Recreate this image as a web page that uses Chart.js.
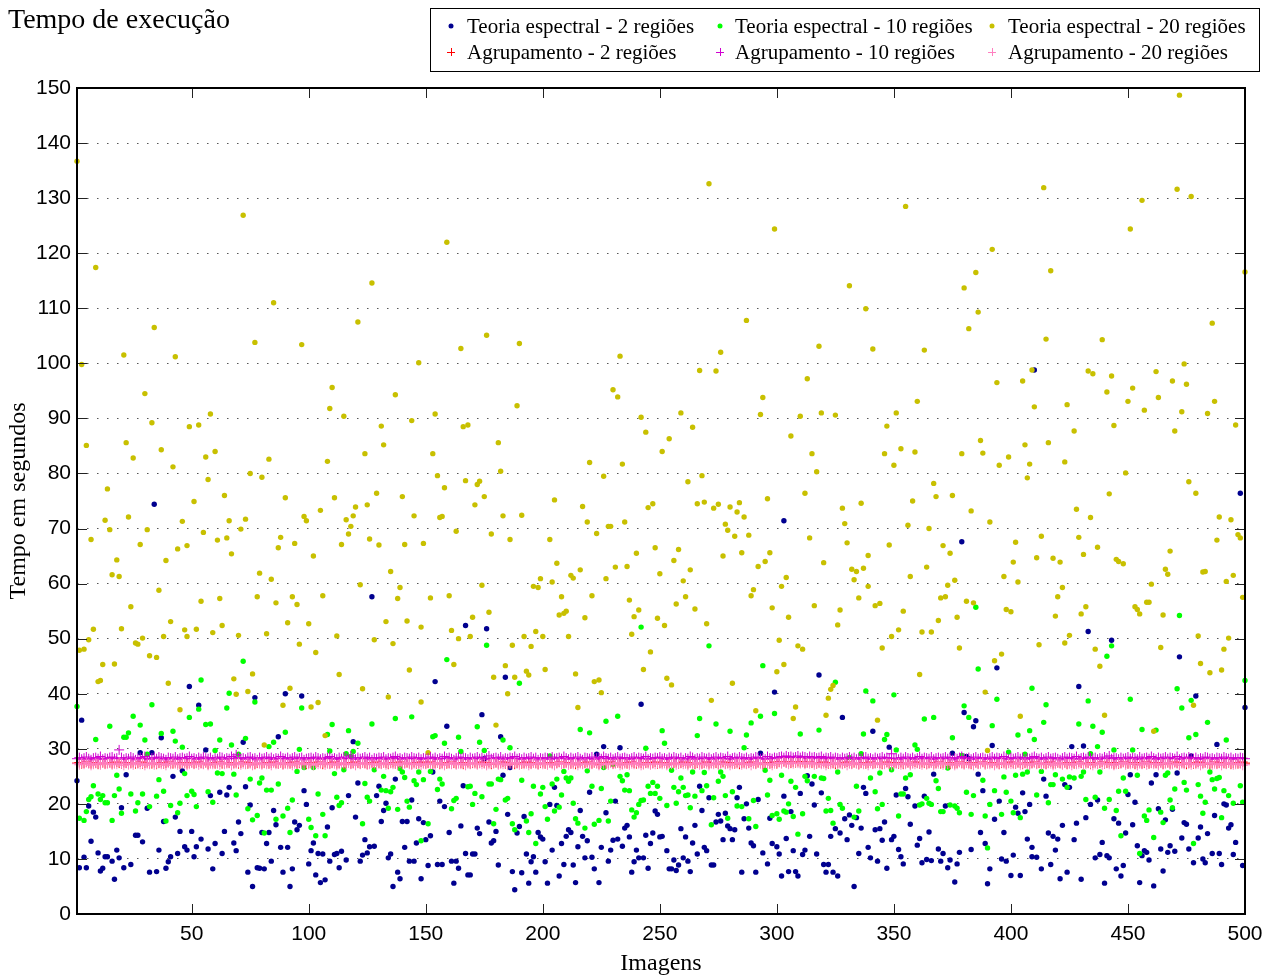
<!DOCTYPE html>
<html lang="pt">
<head>
<meta charset="UTF-8">
<title>Tempo de execução</title>
<script src="https://cdn.jsdelivr.net/npm/chart.js"></script>
<style>
  body { margin: 0; background: #fff; }
  canvas { display: block; }
</style>
</head>
<body>
<canvas id="myChart" width="1274" height="976"></canvas>
<script>
// eixos
const xTicks = [50, 100, 150, 200, 250, 300, 350, 400, 450, 500];
const yTicks = [0, 10, 20, 30, 40, 50, 60, 70, 80, 90, 100, 110, 120, 130, 140, 150];

// Teoria espectral - 2 regiões  [imagem, segundos]
const espectral2 = [
[1,24.2],[2,8.4],[3,35.2],[4,10.3],[5,8.4],[6,19.6],[7,13.2],[8,18.5],[9,17.6],[10,11.1],[11,7.8],[12,8.3],[13,10.4],[14,10.4],[16,9.6],[17,6.3],[18,11.6],[19,10.2],[20,19.3],[21,8.4],[22,25.3],[24,9.0],[26,14.3],[27,14.3],[28,29.3],[29,13.1],[31,19.2],[32,7.6],[33,29.3],[34,74.4],[35,7.7],[36,11.6],[37,32.0],[38,16.8],[39,8.3],[40,9.5],[41,10.4],[42,25.0],[43,17.6],[44,11.0],[45,15.0],[46,26.0],[47,12.2],[48,11.6],[49,41.3],[50,15.0],[51,10.4],[52,12.2],[53,37.9],[54,13.6],[56,29.8],[57,11.8],[58,21.5],[59,8.2],[60,12.8],[62,22.1],[63,11.0],[64,15.0],[65,21.6],[66,23.0],[68,12.9],[69,11.5],[70,16.7],[71,14.6],[72,31.2],[73,23.1],[74,7.6],[75,19.8],[76,5.0],[77,39.3],[78,8.4],[79,8.3],[80,14.8],[81,8.2],[82,12.8],[83,14.8],
[84,9.6],[85,18.8],[86,16.2],[87,32.2],[88,12.1],[89,7.6],[90,40.0],[91,12.1],[92,5.0],[93,8.2],[94,16.7],[95,15.3],[96,16.1],[97,39.6],[98,22.4],[99,19.9],[100,9.1],[101,11.5],[102,12.9],[103,7.1],[104,11.0],[105,5.7],[106,10.9],[107,6.2],[108,15.8],[109,9.6],[110,19.3],[111,10.8],[112,11.0],[113,8.4],[114,11.4],[116,9.8],[117,21.5],[119,31.3],[120,17.6],[121,23.8],[122,9.6],[123,10.7],[124,13.5],[125,11.1],[126,12.2],[127,57.6],[128,12.3],[129,21.5],[130,23.2],[131,16.8],[132,18.8],[133,20.1],[134,10.2],[135,10.9],[136,5.0],[137,24.5],[138,7.6],[139,6.4],[140,16.8],[141,12.1],[142,16.8],[143,9.6],[144,20.7],[145,9.6],[146,12.9],[147,17.3],[148,6.4],[149,16.6],[150,13.5],[151,8.8],[152,14.2],[153,25.8],[154,42.2],[155,9.0],[156,20.5],[157,9.0],[158,19.5],[159,34.1],[160,14.8],[161,9.6],[162,5.6],[163,9.6],[164,8.3],[165,16.0],[166,23.3],[167,11.0],[167,52.4],[168,7.1],
[169,7.1],[170,10.9],[171,10.9],[172,15.6],[173,14.6],[174,36.2],[175,28.2],[176,51.8],[177,16.7],[178,12.9],[179,13.3],[180,15.0],[181,8.9],[182,32.2],[183,25.2],[184,43.0],[185,18.1],[186,26.6],[187,7.7],[188,4.4],[189,14.7],[190,15.9],[191,7.5],[192,17.7],[193,10.9],[194,5.6],[195,9.5],[196,10.4],[197,7.6],[198,14.8],[199,14.0],[200,13.6],[201,9.5],[202,5.6],[203,19.9],[204,11.6],[205,23.0],[206,19.7],[207,6.9],[208,12.8],[209,9.0],[210,14.1],[211,15.3],[212,14.8],[213,8.9],[214,5.7],[215,12.2],[216,18.8],[217,14.1],[218,10.2],[219,13.3],[220,22.1],[221,10.3],[222,8.2],[223,29.0],[224,5.7],[225,12.1],[226,30.4],[227,18.4],[228,9.6],[229,11.6],[230,13.4],[231,20.5],[232,13.6],[233,30.2],[234,12.3],[235,15.6],[236,16.1],[237,14.0],[238,7.6],[239,9.5],[240,11.6],[241,10.2],[242,38.1],[243,10.2],[244,14.3],[245,8.3],[246,12.8],[247,14.7],[248,18.7],[249,18.1],[250,14.0],[251,14.1],[253,11.5],[254,8.2],
[255,8.2],[256,9.8],[257,7.9],[258,8.9],[259,15.5],[260,10.2],[261,14.0],[262,9.6],[263,7.7],[264,12.9],[265,16.1],[266,10.9],[267,23.2],[268,18.8],[269,12.1],[270,11.5],[271,21.1],[272,8.9],[273,8.9],[274,16.7],[275,18.1],[276,16.9],[277,13.5],[278,18.3],[279,16.0],[280,15.5],[281,13.5],[282,15.3],[283,21.1],[284,23.0],[285,7.6],[286,17.3],[287,20.0],[288,15.6],[289,12.9],[290,12.4],[291,7.6],[292,20.8],[293,29.2],[294,11.1],[296,9.1],[297,17.4],[298,12.8],[299,40.3],[300,12.2],[301,10.9],[302,6.9],[303,71.4],[303,21.4],[304,13.7],[305,7.7],[306,18.6],[307,11.5],[308,7.7],[309,6.9],[310,21.9],[311,10.8],[312,11.6],[313,25.1],[314,14.1],[315,23.6],[316,19.8],[317,10.9],[318,43.4],[319,22.0],[320,9.0],[321,7.6],[322,9.0],[323,14.1],[324,7.6],[325,15.5],[326,6.9],[327,14.7],[328,35.7],[329,17.3],[330,13.5],[331,18.0],[332,16.1],[333,5.0],[334,17.5],[335,11.0],[336,15.6],[337,23.0],[338,21.9],[339,12.1],[340,10.2],
[341,33.2],[342,15.3],[343,9.6],[344,15.5],[345,13.4],[346,16.7],[347,8.3],[348,30.3],[349,13.5],[350,14.1],[351,21.6],[352,11.7],[353,10.4],[354,9.1],[355,22.8],[356,21.3],[357,16.3],[359,19.6],[360,12.5],[361,13.7],[362,9.3],[363,21.4],[364,9.9],[365,14.9],[366,9.7],[367,25.4],[369,11.8],[370,9.6],[371,11.0],[372,19.6],[373,8.4],[374,9.8],[375,29.2],[376,5.8],[377,9.1],[378,11.2],[379,67.6],[380,36.6],[381,28.6],[382,28.2],[383,11.7],[384,34.0],[385,35.1],[386,25.4],[387,14.8],[388,22.4],[389,12.8],[390,5.5],[391,8.2],[392,30.6],[393,17.2],[394,44.7],[395,20.5],[396,10.0],[397,14.8],[398,9.6],[400,7.0],[401,10.7],[402,19.4],[403,18.3],[404,7.0],[405,22.0],[406,18.6],[407,13.6],[408,19.9],[409,12.1],[409,10.4],[410,98.8],[411,10.3],[413,8.2],[414,24.5],[415,21.4],[416,14.7],[417,9.0],[418,14.1],[419,11.6],[420,13.6],[421,6.4],[422,16.1],[423,23.5],[424,7.6],[425,23.0],
[426,30.4],[427,13.5],[428,16.5],[429,41.3],[430,6.3],[431,30.5],[432,17.5],[433,51.3],[434,19.9],[436,10.2],[437,20.7],[438,10.8],[439,13.0],[440,5.6],[441,10.6],[442,10.2],[443,49.7],[444,17.3],[445,8.2],[446,16.5],[447,6.9],[448,8.8],[449,14.7],[450,21.7],[451,25.3],[452,16.2],[453,20.3],[454,12.4],[455,5.7],[456,10.6],[457,11.5],[458,11.2],[459,9.8],[460,23.8],[461,5.1],[462,25.3],[463,19.1],[464,11.8],[465,7.8],[466,17.1],[467,11.2],[468,12.4],[469,19.0],[470,11.4],[471,25.6],[472,46.7],[473,13.8],[474,16.6],[475,16.3],[476,11.8],[477,28.7],[478,9.3],[479,39.6],[480,13.8],[481,15.8],[482,10.0],[483,9.3],[484,14.6],[486,11.0],[487,17.9],[488,30.8],[489,11.0],[490,9.0],[491,20.0],[492,19.8],[493,15.6],[494,16.2],[495,10.8],[496,13.0],[498,76.4],[499,8.8],[500,37.5]
];

// Teoria espectral - 10 regiões
const espectral10 = [
[1,37.7],[2,17.4],[4,17.0],[5,18.6],[6,20.8],[7,21.3],[8,23.3],[9,31.7],[10,21.8],[11,20.8],[12,21.5],[13,20.2],[14,20.2],[15,34.1],[16,17.0],[17,21.5],[18,25.2],[19,22.7],[20,18.3],[21,32.1],[22,32.1],[23,32.9],[24,21.8],[25,35.9],[26,18.7],[27,20.2],[28,34.3],[29,21.8],[30,31.6],[31,29.0],[32,19.5],[33,38.0],[35,21.4],[36,24.4],[37,32.8],[38,22.3],[39,16.9],[41,19.7],[42,33.2],[43,31.4],[44,18.4],[45,20.1],[46,30.3],[47,25.5],[48,21.5],[49,35.7],[50,22.3],[51,21.7],[52,19.5],[53,37.2],[54,42.5],[56,34.4],[57,22.2],[58,34.5],[59,20.3],[60,29.7],[61,25.6],[62,31.6],[63,25.5],[65,37.4],[66,40.1],[67,30.7],[68,25.4],[69,21.6],[70,29.0],[72,45.9],[73,31.9],[74,19.1],[75,24.5],[76,17.1],[77,38.5],[78,17.9],[79,23.8],[80,24.7],[81,14.7],[82,22.5],[83,30.4],
[84,22.5],[85,31.2],[86,17.2],[87,23.6],[89,17.8],[90,33.0],[91,19.2],[92,14.8],[93,20.7],[95,25.9],[96,29.9],[97,37.4],[98,26.6],[100,17.2],[101,15.7],[102,26.6],[103,14.2],[104,21.8],[106,18.1],[107,14.2],[108,32.6],[109,29.6],[110,34.4],[111,25.5],[112,21.2],[113,19.7],[114,20.2],[115,26.2],[116,29.1],[117,33.3],[118,28.6],[119,29.5],[121,31.0],[123,16.4],[124,23.7],[125,21.2],[126,20.5],[127,34.5],[128,26.2],[131,22.5],[132,25.0],[133,22.4],[134,19.2],[135,22.2],[136,23.0],[137,35.5],[138,19.0],[139,26.4],[140,25.8],[141,24.8],[142,20.5],[143,19.4],[144,35.8],[145,24.2],[146,23.5],[147,25.8],[148,13.3],[149,24.4],[151,16.4],[152,25.9],[153,32.2],[154,32.4],[155,22.6],[156,24.5],[157,23.6],[158,31.0],[159,46.2],[161,19.1],[162,20.6],[163,21.0],[164,32.1],[165,29.5],[168,23.1],
[169,23.2],[170,19.9],[171,21.9],[172,34.0],[173,31.2],[174,21.3],[175,29.7],[176,48.8],[177,23.6],[178,23.6],[179,16.4],[180,19.0],[181,24.5],[182,24.4],[183,31.6],[184,20.7],[185,21.0],[186,30.2],[187,16.4],[188,15.3],[190,41.9],[191,24.3],[193,16.9],[194,14.8],[195,18.2],[196,23.2],[197,12.8],[199,21.8],[200,23.0],[201,19.5],[202,17.2],[203,28.7],[204,23.6],[205,18.7],[206,24.5],[207,19.4],[208,21.6],[209,25.9],[210,24.7],[211,24.1],[212,24.7],[213,20.1],[214,17.3],[215,16.5],[216,33.5],[218,15.6],[219,26.0],[220,32.9],[221,23.2],[222,16.3],[224,17.0],[225,22.8],[226,26.6],[227,35.0],[228,16.9],[229,20.5],[230,27.2],[232,35.9],[233,25.0],[234,24.2],[235,22.5],[236,25.3],[237,22.4],[238,18.9],[239,17.6],[240,18.4],[241,19.9],[242,52.1],[242,20.6],[243,20.7],[244,30.1],[245,23.2],[246,21.9],[247,23.9],[248,21.9],[249,23.2],[250,21.0],[251,33.3],[252,31.0],[253,19.7],
[255,26.1],[256,23.0],[257,20.1],[258,22.2],[259,24.7],[260,23.0],[261,21.5],[262,21.6],[263,19.3],[264,25.8],[265,21.4],[266,32.4],[267,35.5],[268,22.4],[269,25.7],[270,23.3],[271,48.7],[272,16.2],[273,21.1],[274,34.5],[275,24.1],[276,25.8],[277,25.0],[278,21.5],[279,17.4],[280,33.2],[281,22.2],[283,19.6],[285,19.5],[286,30.2],[287,32.5],[288,17.3],[289,34.7],[290,20.6],[291,15.9],[293,35.9],[294,45.1],[295,26.1],[296,21.6],[297,24.3],[298,17.9],[299,36.4],[300,18.2],[301,17.2],[302,25.2],[303,18.7],[304,18.5],[305,20.0],[306,24.1],[307,17.7],[308,23.0],[309,14.5],[310,32.7],[311,18.2],[312,25.0],[313,24.2],[316,25.0],[318,33.4],[319,24.7],[320,24.6],[321,18.7],[322,21.0],[323,18.8],[324,16.5],[325,42.1],[326,25.8],[327,19.9],[328,19.2],[331,28.4],[333,17.6],[334,23.2],[335,18.7],[336,29.1],[337,32.7],[338,40.5],[340,24.7],
[341,38.7],[342,22.2],[343,19.1],[344,25.6],[345,19.9],[346,31.7],[347,32.6],[349,26.2],[350,39.8],[351,29.8],[352,17.8],[353,21.8],[354,21.8],[355,24.7],[357,25.3],[359,30.7],[360,29.9],[361,19.8],[362,20.0],[363,35.4],[364,21.0],[365,20.1],[366,19.9],[367,35.7],[368,24.2],[369,22.8],[370,18.6],[371,18.6],[373,26.5],[374,19.8],[375,32.0],[376,19.6],[377,19.2],[378,18.4],[379,28.8],[380,37.8],[381,22.1],[382,35.7],[383,18.1],[384,21.5],[385,55.7],[386,44.5],[388,24.3],[389,17.8],[390,12.0],[391,19.9],[392,34.2],[393,22.4],[394,39.0],[396,18.1],[397,24.9],[398,22.1],[399,29.4],[400,20.5],[401,18.4],[402,25.2],[403,32.5],[404,17.5],[405,25.4],[406,29.0],[407,25.8],[408,33.3],[409,41.0],[410,31.7],[411,21.6],[413,25.9],[414,34.8],[415,38.0],[416,20.2],[417,23.5],[418,23.5],[419,25.3],[422,24.5],[424,23.0],[425,24.9],
[427,24.7],[429,34.5],[430,25.0],[431,25.8],[432,20.8],[433,38.7],[434,29.1],[435,34.1],[436,21.2],[437,30.4],[438,25.8],[439,33.0],[440,19.2],[441,46.8],[442,20.8],[443,48.7],[444,29.8],[445,18.8],[446,22.3],[447,14.2],[448,24.7],[449,22.3],[451,39.0],[452,29.8],[454,25.2],[455,11.0],[456,33.5],[457,17.8],[458,17.0],[459,18.9],[461,13.9],[462,33.4],[464,18.5],[465,16.6],[466,25.2],[467,25.6],[468,20.7],[469,19.3],[470,22.7],[471,40.9],[472,54.2],[473,37.4],[474,23.9],[475,22.5],[476,32.0],[477,38.8],[478,12.8],[479,32.6],[480,23.5],[481,21.4],[482,18.3],[483,20.3],[484,34.8],[485,25.8],[486,24.4],[487,22.7],[488,24.6],[489,24.8],[490,17.5],[491,22.4],[492,31.6],[493,21.5],[495,20.1],[498,23.3],[499,20.3],[500,42.4]
];

// Teoria espectral - 20 regiões
const espectral20 = [
[1,136.7],[72,126.9],[9,117.4],[159,122.0],[127,114.6],[85,111.0],[121,107.5],[34,106.5],[77,103.8],[97,103.4],[165,102.7],[21,101.5],[43,101.2],[3,99.8],[147,100.1],[110,95.6],[30,94.5],[137,94.3],[109,91.8],[58,90.8],[115,90.4],[154,90.8],[33,89.2],[49,88.5],[53,88.8],[131,88.6],[144,89.6],[166,88.5],[168,88.8],[5,85.1],[22,85.6],[132,85.2],[37,84.3],[60,84.0],[25,82.8],[56,83.0],[83,82.6],[108,82.2],[124,83.6],[153,83.6],[42,81.2],[75,80.0],[80,79.3],[57,78.9],[155,79.6],[167,78.7],[14,77.2],[64,76.0],[90,75.6],[111,75.6],[129,76.4],[140,75.8],[158,77.4],[51,74.9],[23,72.1],[13,71.5],[46,71.3],[66,71.4],[73,71.7],[98,72.2],[99,71.4],[105,73.3],[116,71.6],[119,72.3],[120,73.9],[125,74.3],[145,72.3],[156,72.0],[157,72.2],[15,69.8],[31,69.8],[71,69.9],[118,70.4],[117,69.0],[163,69.5],[7,68.0],[28,67.1],[48,66.9],[55,69.3],[61,67.9],[65,68.3],[88,68.4],[94,67.3],[114,67.1],[126,68.1],[130,67.0],[141,67.1],[149,67.3],[44,66.3],[87,66.5],[67,65.4],[102,65.0],[18,64.3],[39,64.2],[16,61.6],[19,61.3],[79,61.9],[84,60.8],[135,62.2],[122,59.8],[139,59.3],[36,58.8],[24,55.8],[54,56.8],[62,57.3],[78,57.6],[86,56.5],[93,57.6],[95,56.2],[106,57.8],[138,57.3],[152,57.4],[160,57.8],[41,53.1],[8,51.7],[20,51.8],[47,51.6],[52,51.7],[63,52.4],[91,52.9],[100,52.7],[133,53.1],[142,53.2],[148,52.1],[161,51.5],[6,49.8],[29,50.1],[38,50.4],[48,50.4],[59,51.1],[70,50.6],[82,50.9],[112,50.5],[164,50.0],[128,49.8],[2,47.9],[4,48.1],[26,49.2],[27,49.0],[96,49.0],[136,49.1],
[10,42.2],[11,42.4],[12,45.3],[17,45.4],[32,46.9],[35,46.6],[40,41.9],[45,37.1],[68,42.7],[69,39.9],[74,40.4],[76,43.6],[81,30.7],[89,37.9],[92,41.0],[101,37.6],[103,47.5],[104,38.4],[107,32.4],[113,43.5],[123,40.9],[134,39.4],[143,44.3],[148,38.5],[151,29.3],[162,45.3],
[271,132.6],[299,124.4],[331,114.1],[338,109.9],[287,107.8],[176,105.1],[190,103.6],[276,102.0],[318,103.1],[233,101.3],[267,98.7],[274,98.6],[313,97.2],[230,95.2],[232,93.9],[189,92.3],[294,93.8],[259,91.0],[293,90.7],[310,90.4],[319,91.0],[325,90.6],[242,90.2],[264,88.4],[244,87.5],[306,86.8],[254,86.3],[181,85.6],[251,84.0],[315,83.6],[220,82.0],[234,81.7],[182,80.4],[317,80.3],[226,79.5],[268,79.6],[262,78.5],[173,78.6],[172,78.0],[175,75.8],[171,74.3],[205,75.2],[217,74.0],[247,74.5],[245,73.8],[266,74.5],[269,74.8],[273,73.7],[275,74.4],[280,73.9],[284,74.7],[283,73.0],[286,72.1],[296,75.4],[312,76.4],[328,73.7],[336,74.6],[183,72.3],[191,72.4],[219,71.2],[228,70.4],[229,70.4],[235,71.2],[278,70.8],[329,70.9],[178,69.0],[186,68.0],[203,68.0],[223,69.1],[279,69.7],[282,68.6],[288,68.8],[314,68.3],[330,67.4],[206,63.7],[240,65.5],[248,66.5],[258,66.2],[256,64.2],[277,65.0],[285,65.6],[297,65.6],[295,64.0],[292,63.1],[320,63.8],[332,62.6],[334,62.2],[337,62.8],[212,61.5],[213,61.0],[216,62.5],[199,60.9],[204,60.3],[231,63.0],[236,63.1],[227,60.9],[250,61.8],[263,62.5],[260,60.5],[304,61.1],[333,60.7],[174,59.7],[196,59.5],[198,59.3],[302,59.5],[339,59.5],[290,58.9],[289,57.8],[208,57.6],[221,57.8],[237,57.0],[257,56.3],[261,57.6],[335,57.4],[298,55.6],[316,56.0],[170,53.9],[207,54.3],[209,54.6],[210,55.0],[218,53.8],[239,54.0],[241,55.2],[249,53.7],[265,55.4],[305,53.9],[327,55.2],[177,54.8],[197,51.3],[252,52.4],[270,52.7],[326,52.5],[192,50.4],[200,50.4],[211,50.4],[238,50.8],[169,50.4],[187,48.8],[195,48.6],[301,49.7],[309,48.7],[311,48.1],
[179,43.0],[184,45.1],[188,43.0],[185,40.0],[193,44.1],[194,43.4],[201,44.4],[180,34.3],[214,43.6],[215,37.5],[222,42.2],[224,42.5],[225,40.2],[243,44.4],[246,47.6],[253,42.8],[255,41.6],[272,38.8],[281,41.9],[291,36.9],[300,44.0],[303,45.3],[308,37.6],[307,35.5],[322,39.2],[323,40.8],[324,41.5],[321,36.1],
[472,148.7],[414,131.9],[471,131.6],[477,130.3],[456,129.6],[355,128.5],[451,124.4],[392,120.7],[385,116.5],[417,116.8],[500,116.6],[380,113.7],[386,109.3],[486,107.3],[382,106.3],[415,104.4],[439,104.3],[341,102.6],[363,102.4],[474,99.9],[409,98.8],[433,98.6],[435,98.1],[443,97.7],[462,98.5],[475,96.2],[394,96.5],[405,96.8],[469,96.8],[452,95.5],[441,94.8],[360,93.1],[450,93.1],[463,93.8],[487,93.1],[410,92.1],[424,92.5],[457,91.5],[473,91.2],[484,90.9],[351,91.0],[347,88.6],[444,88.7],[496,88.8],[470,87.7],[427,87.7],[387,86.0],[416,85.6],[406,85.2],[346,83.6],[353,84.5],[359,83.9],[379,83.6],[388,83.7],[399,83.0],[350,81.5],[395,81.5],[408,81.7],[423,82.1],[407,79.2],[449,80.1],[476,78.5],[479,76.4],[367,78.2],[368,75.8],[375,76.0],[442,76.3],[358,75.0],[428,73.5],[383,73.2],[434,72.0],[489,72.1],[494,71.6],[391,71.2],[356,70.6],[365,70.0],[413,68.6],[429,68.4],[497,68.9],[498,68.3],[348,67.0],[371,66.9],[402,67.5],[437,66.6],[488,67.9],[468,65.9],[339,65.1],[374,65.5],[411,64.7],[418,64.6],[421,63.9],[431,65.3],[445,64.4],[446,64.0],[448,63.6],[364,63.0],[401,63.9],[466,62.6],[467,61.7],[482,62.1],[483,62.2],[495,61.5],[357,61.3],[376,60.6],[397,61.3],[403,60.3],[460,59.9],[492,60.4],[373,59.7],[422,59.3],[342,56.0],[344,56.4],[370,57.4],[372,57.6],[381,56.8],[384,56.5],[420,57.6],[432,55.8],[453,55.8],[454,55.3],[458,56.6],[459,56.6],[499,57.5],[354,55.0],[398,55.3],[400,54.9],[419,54.1],[430,54.5],[455,54.5],[465,54.3],[377,53.9],[369,53.3],[352,51.6],[362,51.2],[366,51.2],[349,50.4],[425,50.6],[480,50.5],[493,50.1],[423,49.2],[412,48.9],[345,48.3],[378,48.3],[436,48.1],[464,48.4],[491,48.1],
[343,35.2],[361,43.5],[389,40.3],[390,29.7],[393,46.0],[396,47.2],[404,35.9],[438,45.0],[440,36.1],[461,33.2],[478,37.9],[481,45.5],[485,43.8],[490,44.3]
];

// Agrupamento - um valor por imagem (1..500)
const agrupamento2 = [
27.4,27.5,27.3,27.4,27.6,27.4,27.3,27.5,27.4,27.2,27.4,27.5,27.3,27.4,27.5,27.3,27.4,27.6,27.4,27.3,27.5,27.4,27.2,27.4,27.5,27.3,27.4,27.6,27.3,27.4,27.5,27.4,27.3,27.5,27.2,27.4,27.5,27.3,27.4,27.6,27.4,27.3,27.5,27.4,27.2,27.4,27.5,27.3,27.4,27.5,
27.3,27.4,27.6,27.4,27.3,27.5,27.2,27.4,27.5,27.3,27.4,27.6,27.3,27.4,27.5,27.4,27.2,27.4,27.5,27.3,27.4,27.6,27.4,27.3,27.5,27.4,27.2,27.4,27.5,27.3,27.4,27.5,27.3,27.4,27.6,27.4,27.3,27.5,27.2,27.4,27.5,27.3,27.4,27.6,27.3,27.4,27.5,27.4,27.2,27.4,
27.5,27.3,27.4,27.6,27.4,27.2,27.5,27.4,27.3,27.4,27.6,27.3,27.4,27.5,27.2,27.4,27.5,27.3,27.4,27.6,27.4,27.3,27.5,27.4,27.2,27.4,27.5,27.3,27.6,27.4,27.3,27.5,27.4,27.2,27.4,27.5,27.3,27.4,27.6,27.3,27.4,27.5,27.4,27.2,27.5,27.3,27.4,27.6,27.4,27.3,
27.4,27.6,27.3,27.4,27.5,27.2,27.4,27.5,27.3,27.4,27.6,27.4,27.3,27.5,27.4,27.2,27.4,27.5,27.3,27.4,27.5,27.3,27.4,27.6,27.4,27.3,27.5,27.2,27.4,27.5,27.3,27.4,27.6,27.3,27.4,27.5,27.4,27.2,27.4,27.5,27.3,27.4,27.6,27.4,27.3,27.5,27.4,27.2,27.4,27.5,
27.3,27.4,27.5,27.4,27.2,27.4,27.6,27.3,27.4,27.5,27.4,27.3,27.5,27.2,27.4,27.5,27.3,27.4,27.6,27.4,27.3,27.5,27.4,27.2,27.4,27.5,27.3,27.4,27.6,27.3,27.4,27.5,27.4,27.2,27.5,27.3,27.4,27.6,27.4,27.3,27.5,27.4,27.2,27.4,27.5,27.3,27.4,27.6,27.3,27.4,
27.5,27.4,27.3,27.5,27.2,27.4,27.5,27.3,27.4,27.6,27.4,27.3,27.5,27.4,27.2,27.4,27.5,27.3,27.4,27.6,27.3,27.4,27.5,27.4,27.2,27.4,27.6,27.3,27.4,27.5,27.4,27.3,27.5,27.2,27.4,27.5,27.3,27.4,27.6,27.4,27.3,27.5,27.4,27.2,27.4,27.5,27.3,27.4,27.6,27.3,
27.6,27.5,27.7,27.5,27.6,27.4,27.6,27.5,27.7,27.5,27.6,27.4,27.5,27.6,27.4,27.5,27.3,27.5,27.4,27.6,27.4,27.3,27.5,27.4,27.2,27.4,27.5,27.3,27.4,27.6,27.4,27.3,27.5,27.4,27.2,27.4,27.5,27.3,27.4,27.6,27.3,27.4,27.5,27.4,27.2,27.4,27.6,27.3,27.4,27.5,
27.4,27.3,27.5,27.2,27.4,27.5,27.3,27.4,27.6,27.4,27.3,27.5,27.4,27.2,27.4,27.5,27.3,27.4,27.6,27.3,27.4,27.5,27.4,27.2,27.5,27.3,27.4,27.6,27.4,27.3,27.5,27.4,27.2,27.4,27.5,27.3,27.4,27.6,27.3,27.4,27.5,27.4,27.3,27.5,27.2,27.4,27.5,27.3,27.4,27.6,
27.4,27.3,27.5,27.4,27.2,27.4,27.5,27.3,27.4,27.6,27.3,27.4,27.5,27.4,27.2,27.4,27.6,27.3,27.4,27.5,27.4,27.3,27.5,27.2,27.4,27.5,27.3,27.4,27.6,27.4,27.3,27.5,27.4,27.2,27.4,27.5,27.3,27.4,27.6,27.3,27.4,27.5,27.4,27.2,27.5,27.3,27.4,27.6,27.4,27.3,
27.5,27.4,27.2,27.4,27.5,27.3,27.4,27.6,27.3,27.4,27.5,27.4,27.3,27.5,27.2,27.4,27.5,27.3,27.4,27.6,27.4,27.3,27.5,27.4,27.2,27.4,27.5,27.3,27.4,27.6,27.3,27.4,27.5,27.4,27.2,27.4,27.6,27.3,27.4,27.5,27.4,27.3,27.5,27.2,27.4,27.5,27.3,27.4,27.6,27.4
];
const agrupamento10 = [
28.2,28.4,28.1,28.3,28.5,28.2,28.0,28.3,28.4,28.2,28.6,28.1,28.3,28.2,28.4,28.5,28.2,28.3,29.8,28.4,28.1,28.3,28.2,28.5,28.3,28.0,28.2,28.4,28.3,28.6,28.2,28.1,28.3,28.4,28.2,28.5,28.3,28.2,28.0,28.4,28.3,28.2,28.5,28.1,28.3,28.4,28.2,28.3,28.6,28.2,
28.3,28.1,28.4,28.2,28.5,28.3,28.2,28.4,28.0,28.3,28.2,28.5,28.4,28.1,28.3,28.2,28.6,28.3,28.9,28.4,28.2,28.3,28.1,28.4,28.5,28.2,28.3,28.0,28.4,28.2,28.3,28.5,28.2,28.4,28.1,28.3,28.2,28.6,28.3,28.2,28.4,28.1,28.3,28.5,28.2,28.3,28.4,28.0,28.2,28.3,
28.4,28.2,28.5,28.3,28.1,28.3,28.2,28.4,28.6,28.2,28.3,28.1,28.4,28.2,28.5,28.3,28.2,28.7,28.3,28.1,28.4,28.2,28.3,28.5,28.2,28.4,28.0,28.3,28.2,28.4,28.3,28.5,28.1,28.3,28.2,28.4,28.6,28.2,28.3,28.1,28.4,28.3,28.2,28.5,28.3,28.2,28.4,28.1,28.3,28.2,
28.3,28.5,28.2,28.4,28.1,28.3,28.2,28.6,28.3,28.4,28.2,28.0,28.3,28.5,28.2,28.4,28.3,28.1,28.4,28.2,28.3,28.5,28.2,28.4,28.1,28.3,28.7,28.2,28.3,28.4,28.2,28.5,28.1,28.3,28.2,28.4,28.3,28.6,28.2,28.3,28.1,28.4,28.2,28.3,28.5,28.2,28.4,28.0,28.3,28.2,
28.4,28.3,28.1,28.5,28.2,28.3,28.4,28.2,28.6,28.3,28.1,28.4,28.2,28.3,28.5,28.2,28.0,28.4,28.3,28.2,28.5,28.1,28.3,28.4,28.2,28.6,28.3,28.2,28.4,28.1,28.3,28.5,28.2,28.3,28.4,28.2,28.1,28.3,28.5,28.2,28.4,28.3,28.2,28.6,28.1,28.3,28.2,28.4,28.3,28.5,
28.2,28.3,28.1,28.4,28.2,28.5,28.3,28.2,28.4,28.0,28.3,28.2,28.6,28.4,28.1,28.3,28.2,28.5,28.3,28.2,28.4,28.1,28.3,28.5,28.2,28.4,28.3,28.2,28.6,28.1,28.3,28.4,28.2,28.5,28.3,28.2,28.4,28.1,28.3,28.2,28.5,28.4,28.2,28.3,28.1,28.6,28.3,28.2,28.4,28.3,
28.5,28.6,28.4,28.7,28.5,28.6,28.4,28.5,28.7,28.4,28.6,28.5,28.3,28.6,28.4,28.5,28.3,28.4,28.6,28.2,28.4,28.3,28.5,28.2,28.4,28.3,28.1,28.4,28.2,28.3,28.5,28.2,28.4,28.1,28.3,28.2,28.4,28.5,28.2,28.3,28.1,28.4,28.2,28.3,28.5,28.2,28.4,28.3,29.1,28.2,
28.3,28.1,28.4,28.2,28.5,28.3,28.2,28.4,28.1,28.3,28.6,28.2,28.4,28.3,28.2,28.5,28.1,28.3,28.4,28.2,28.3,28.5,28.2,28.4,28.0,28.3,28.2,28.4,28.6,28.3,28.2,28.4,28.1,28.3,28.5,28.2,28.3,28.4,28.2,28.1,28.3,28.5,28.2,28.4,28.3,28.2,28.6,28.3,28.1,28.4,
28.2,28.3,28.5,28.2,28.4,28.1,28.3,28.2,28.4,28.6,28.3,28.2,28.4,28.1,28.3,28.5,28.2,28.3,28.4,28.2,28.0,28.3,28.5,28.2,28.4,28.3,28.2,28.6,28.1,28.3,28.4,28.2,28.5,28.3,28.2,28.4,28.1,28.3,28.2,28.5,28.3,28.7,28.2,28.4,28.3,28.1,28.4,28.2,28.3,28.5,
28.2,28.4,28.3,28.1,28.5,28.2,28.3,28.4,28.2,28.6,28.3,28.1,28.4,28.2,28.3,28.5,28.2,28.4,28.3,28.2,28.6,28.1,28.3,28.4,28.2,28.5,28.3,28.2,28.4,28.1,28.3,28.2,28.5,28.4,28.2,28.3,28.1,28.4,28.3,28.2,28.5,28.3,28.2,28.4,28.1,28.3,28.2,28.4,28.3,28.2
];
const agrupamento20 = [
27.3,27.1,27.4,27.2,27.5,27.3,27.0,27.2,27.4,27.3,27.1,27.5,27.2,27.3,27.4,27.1,27.3,27.2,27.6,27.3,27.0,27.4,27.2,27.3,27.1,27.5,27.3,27.2,27.4,27.0,27.3,27.2,27.5,27.1,27.3,27.4,27.2,27.3,27.0,27.4,27.2,27.5,27.3,27.1,27.2,27.4,27.3,27.0,27.2,27.4,
27.2,27.4,27.1,27.3,27.2,27.5,27.0,27.3,27.2,27.4,27.3,27.1,27.5,27.2,27.3,27.4,27.0,27.2,27.3,27.5,27.1,27.3,27.2,27.4,27.3,27.0,27.2,27.5,27.3,27.1,27.4,27.2,27.3,27.0,27.4,27.2,27.3,27.5,27.1,27.3,27.2,27.4,27.0,27.3,27.2,27.5,27.3,27.1,27.4,27.2,
27.3,27.0,27.4,27.2,27.3,27.5,27.1,27.3,27.2,27.4,27.3,27.0,27.2,27.5,27.3,27.1,27.4,27.2,27.3,27.0,27.4,27.2,27.5,27.3,27.1,27.2,27.4,27.3,27.0,27.3,27.2,27.5,27.1,27.3,27.4,27.2,27.3,27.0,27.4,27.2,27.3,27.5,27.2,27.1,27.3,27.4,27.2,27.0,27.3,27.2,
27.4,27.2,27.3,27.1,27.5,27.3,27.2,27.0,27.4,27.3,27.2,27.5,27.1,27.3,27.2,27.4,27.0,27.3,27.2,27.5,27.3,27.1,27.4,27.2,27.3,27.0,27.2,27.4,27.3,27.5,27.1,27.3,27.2,27.4,27.0,27.3,27.2,27.5,27.3,27.1,27.4,27.2,27.3,27.0,27.2,27.4,27.3,27.1,27.5,27.2,
27.3,27.1,27.4,27.2,27.0,27.3,27.5,27.2,27.3,27.4,27.1,27.3,27.2,27.5,27.0,27.3,27.2,27.4,27.3,27.1,27.2,27.5,27.3,27.0,27.4,27.2,27.3,27.1,27.4,27.2,27.3,27.5,27.0,27.2,27.3,27.4,27.1,27.3,27.2,27.5,27.3,27.0,27.2,27.4,27.3,27.1,27.3,27.2,27.4,27.3,
27.2,27.4,27.0,27.3,27.2,27.5,27.1,27.3,27.4,27.2,27.3,27.0,27.4,27.2,27.3,27.5,27.1,27.2,27.4,27.3,27.0,27.3,27.2,27.5,27.1,27.3,27.4,27.2,27.3,27.0,27.2,27.4,27.3,27.5,27.1,27.3,27.2,27.4,27.0,27.3,27.2,27.5,27.3,27.1,27.4,27.2,27.3,27.0,27.3,27.4,
27.5,27.3,27.6,27.4,27.2,27.5,27.3,27.6,27.4,27.3,27.5,27.2,27.4,27.3,27.5,27.1,27.3,27.4,27.2,27.3,27.0,27.4,27.2,27.3,27.5,27.1,27.3,27.2,27.4,27.0,27.3,27.2,27.5,27.3,27.1,27.4,27.2,27.3,27.0,27.4,27.2,27.3,27.5,27.1,27.3,27.2,27.4,27.3,27.0,27.2,
27.3,27.4,27.1,27.3,27.2,27.5,27.0,27.3,27.2,27.4,27.3,27.1,27.5,27.2,27.3,27.4,27.0,27.2,27.3,27.5,27.1,27.3,27.2,27.4,27.3,27.0,27.2,27.5,27.3,27.1,27.4,27.2,27.3,27.0,27.4,27.2,27.3,27.5,27.1,27.3,27.2,27.4,27.0,27.3,27.2,27.5,27.3,27.1,27.4,27.2,
27.2,27.3,27.5,27.1,27.3,27.4,27.2,27.0,27.3,27.4,27.2,27.5,27.1,27.3,27.2,27.4,27.3,27.0,27.2,27.5,27.3,27.1,27.4,27.2,27.3,27.0,27.4,27.2,27.3,27.5,27.1,27.2,27.4,27.3,27.0,27.3,27.2,27.5,27.1,27.3,27.4,27.2,27.3,27.0,27.2,27.4,27.3,27.5,27.1,27.3,
27.2,27.4,27.3,27.0,27.3,27.2,27.5,27.1,27.3,27.4,27.2,27.3,27.0,27.4,27.2,27.3,27.5,27.1,27.2,27.4,27.3,27.0,27.3,27.2,27.5,27.3,27.1,27.4,27.2,27.3,27.0,27.2,27.4,27.3,27.5,27.1,27.3,27.2,27.4,27.0,27.3,27.2,27.5,27.3,27.1,27.2,27.4,27.3,27.0,27.1
];

const pares = arr => arr.map(p => ({x: p[0], y: p[1]}));
const porImagem = arr => arr.map((v, k) => ({x: k + 1, y: v}));

function ponto(label, data, color, order) {
    return { label, data, order, pointStyle: 'circle', pointRadius: 2.7,
             backgroundColor: color, borderColor: color, borderWidth: 0, clip: false };
}
function cruz(label, data, color, order) {
    return { label, data, order, pointStyle: 'cross', pointRadius: 5,
             backgroundColor: color, borderColor: color, borderWidth: 1, clip: false };
}

// moldura, marcas internas, título e legenda no estilo do MATLAB
const molduraPlugin = {
    id: 'moldura',
    afterDatasetsDraw(chart) {
        const {ctx, chartArea: a, scales: {x, y}} = chart;
        ctx.save();
        ctx.strokeStyle = '#222';
        ctx.lineWidth = 1;
        ctx.beginPath();
        y.ticks.forEach(t => {
            const py = Math.round(y.getPixelForValue(t.value)) + 0.5;
            ctx.moveTo(a.left, py); ctx.lineTo(a.left + 10, py);
            ctx.moveTo(a.right, py); ctx.lineTo(a.right - 10, py);
        });
        x.ticks.forEach(t => {
            const px = Math.round(x.getPixelForValue(t.value)) + 0.5;
            ctx.moveTo(px, a.bottom); ctx.lineTo(px, a.bottom - 10);
            ctx.moveTo(px, a.top); ctx.lineTo(px, a.top + 10);
        });
        ctx.stroke();
        ctx.strokeStyle = '#000';
        ctx.lineWidth = 2;
        ctx.strokeRect(a.left, a.top, a.right - a.left, a.bottom - a.top);
        ctx.restore();
    },
    afterDraw(chart) {
        const ctx = chart.ctx;
        ctx.save();
        ctx.fillStyle = '#000';
        ctx.font = '28px "Liberation Serif"';
        ctx.textBaseline = 'alphabetic';
        ctx.fillText('Tempo de execução', 8, 28);

        ctx.strokeStyle = '#000';
        ctx.lineWidth = 1;
        ctx.fillStyle = '#fff';
        ctx.fillRect(430.5, 8.5, 829, 63);
        ctx.strokeRect(430.5, 8.5, 829, 63);

        const colMarca = [451, 720, 992], colTexto = [467, 735, 1008], linhaY = [26, 52];
        ctx.font = '21px "Liberation Serif"';
        chart.data.datasets.forEach((ds, k) => {
            const mx = colMarca[k % 3], my = linhaY[Math.floor(k / 3)];
            if (ds.pointStyle === 'cross') {
                ctx.strokeStyle = ds.borderColor;
                ctx.lineWidth = 1;
                ctx.beginPath();
                ctx.moveTo(mx - 4, my + 0.5); ctx.lineTo(mx + 4, my + 0.5);
                ctx.moveTo(mx + 0.5, my - 4); ctx.lineTo(mx + 0.5, my + 4);
                ctx.stroke();
            } else {
                ctx.fillStyle = ds.backgroundColor;
                ctx.beginPath();
                ctx.arc(mx, my, 2.5, 0, Math.PI * 2);
                ctx.fill();
            }
            ctx.fillStyle = '#000';
            ctx.textBaseline = 'middle';
            ctx.fillText(ds.label, colTexto[k % 3], my + 1);
        });
        ctx.restore();
    }
};

const ctx = document.getElementById('myChart').getContext('2d');
new Chart(ctx, {
    type: 'scatter',
    data: {
        datasets: [
            ponto('Teoria espectral - 2 regiões', pares(espectral2), '#00008f', 6),
            ponto('Teoria espectral - 10 regiões', pares(espectral10), '#00ff00', 5),
            ponto('Teoria espectral - 20 regiões', pares(espectral20), '#c8c000', 4),
            cruz('Agrupamento - 2 regiões', porImagem(agrupamento2), '#ff0000', 3),
            cruz('Agrupamento - 10 regiões', porImagem(agrupamento10), '#d000d0', 2),
            cruz('Agrupamento - 20 regiões', porImagem(agrupamento20), '#ff80c0', 1)
        ]
    },
    options: {
        responsive: false,
        animation: false,
        events: [],
        layout: { padding: { left: 0, top: 88, right: 29, bottom: 0 } },
        plugins: { legend: { display: false }, tooltip: { enabled: false }, title: { display: false } },
        scales: {
            x: {
                type: 'linear', min: 1, max: 500,
                afterBuildTicks: s => { s.ticks = xTicks.map(v => ({ value: v })); },
                afterFit: s => { s.height = 62; },
                grid: { display: false, drawTicks: false },
                border: { display: false },
                ticks: { color: '#000', padding: 8, maxRotation: 0,
                         font: { family: 'Liberation Sans', size: 21 } },
                title: { display: true, text: 'Imagens', color: '#000', padding: { top: 0, bottom: -2 },
                         font: { family: 'Liberation Serif', size: 24 } }
            },
            y: {
                min: 0, max: 150,
                afterBuildTicks: s => { s.ticks = yTicks.map(v => ({ value: v })); },
                afterFit: s => { s.width = 77; },
                grid: { color: '#555', lineWidth: 1, drawTicks: false },
                border: { display: false, dash: [1.5, 8.5] },
                ticks: { color: '#000', padding: 6,
                         font: { family: 'Liberation Sans', size: 21 } },
                title: { display: true, text: 'Tempo em segundos', color: '#000',
                         padding: { top: 4, bottom: 0 },
                         font: { family: 'Liberation Serif', size: 24 } }
            }
        }
    },
    plugins: [molduraPlugin]
});
</script>
</body>
</html>
